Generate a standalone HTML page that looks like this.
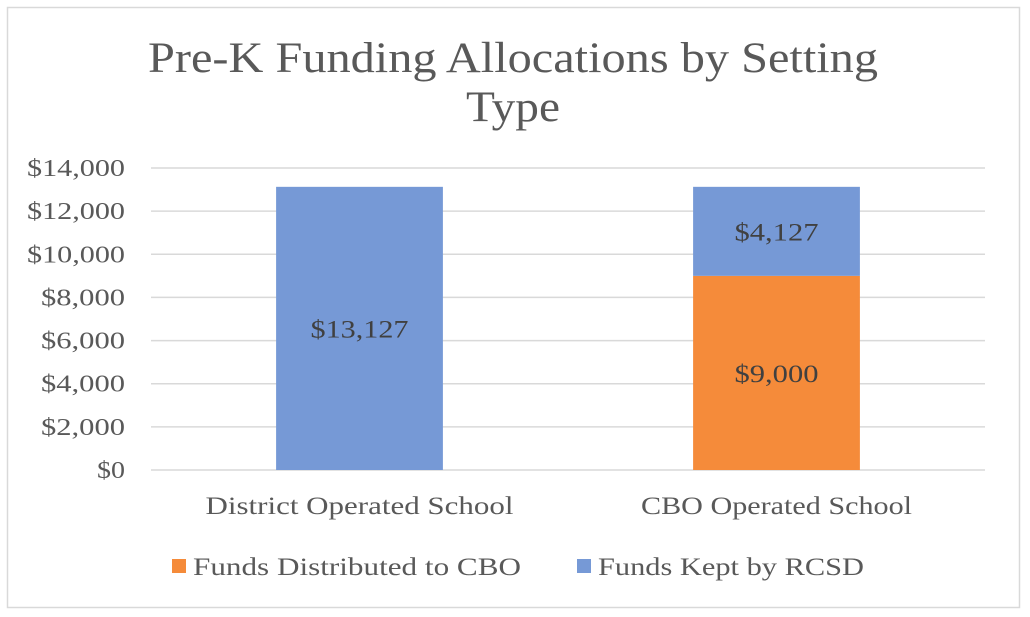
<!DOCTYPE html>
<html><head><meta charset="utf-8"><style>
html,body{margin:0;padding:0;background:#fff;}
svg{display:block;font-family:"Liberation Serif",serif;}
</style></head><body>
<svg width="1030" height="617">
<rect x="7.5" y="7.5" width="1012" height="600" fill="#fff" stroke="#d9d9d9" stroke-width="1.5"/>
<text x="513" y="72" font-size="43" fill="#595959" text-anchor="middle" textLength="730" lengthAdjust="spacingAndGlyphs">Pre-K Funding Allocations by Setting</text>
<text x="513" y="121" font-size="43" fill="#595959" text-anchor="middle" textLength="94" lengthAdjust="spacingAndGlyphs">Type</text>
<g id="grid"></g><g id="bars"></g><g id="labels"></g>
<rect x="172" y="559" width="14" height="14" fill="#f58b3a"/>
<text x="193" y="575" font-size="25" fill="#595959" textLength="328" lengthAdjust="spacingAndGlyphs">Funds Distributed to CBO</text>
<rect x="577" y="559" width="14" height="14" fill="#7699d6"/>
<text x="598" y="575" font-size="25" fill="#595959" textLength="266" lengthAdjust="spacingAndGlyphs">Funds Kept by RCSD</text>
</svg>
<script>
const categories=["District Operated School","CBO Operated School"];
const cboFunds=[0,9000];
const rcsdFunds=[13127,4127];
const ticks=[0,2000,4000,6000,8000,10000,12000,14000];
const NS="http://www.w3.org/2000/svg";
const x0=151,x1=985,yMin=0,yMax=14000,py0=470,py1=168;
const y=v=>py0-(v-yMin)/(yMax-yMin)*(py0-py1);
const band=(x1-x0)/categories.length;
const cx=i=>x0+band*(i+0.5);
const bw=band*0.4;
const fmt=v=>"$"+v.toLocaleString("en-US");
const labelWidth=c=>c.length>20?308:271;
function mk(tag,attrs,parent){const e=document.createElementNS(NS,tag);for(const k in attrs)e.setAttribute(k,attrs[k]);document.getElementById(parent).appendChild(e);return e;}
ticks.forEach(t=>{
  const l=mk("line",{x1:x0,x2:x1,y1:y(t),y2:y(t),stroke:"#d9d9d9","stroke-width":1.5},"grid");
  
  
  const s=fmt(t);
  const tx=mk("text",{x:125,y:y(t)+8,"font-size":24,fill:"#595959","text-anchor":"end",textLength:s.length*14,lengthAdjust:"spacingAndGlyphs"},"grid");
  tx.textContent=s;
  
  
});
categories.forEach((c,i)=>{
  const segs=[[cboFunds[i],"#f58b3a","bar-cbo"],[rcsdFunds[i],"#7699d6","bar-rcsd"]];
  let base=0;
  segs.forEach(([v,col,name])=>{
    if(v>0){
      const r=mk("rect",{x:cx(i)-bw/2,y:y(base+v),width:bw,height:y(base)-y(base+v),fill:col},"bars");
      
      
      const s=fmt(v);
      const t=mk("text",{x:cx(i),y:(y(base)+y(base+v))/2+9,"font-size":25,fill:"#404040","text-anchor":"middle",textLength:s.length*14,lengthAdjust:"spacingAndGlyphs"},"labels");
      t.textContent=s;
      
      
    }
    base+=v;
  });
  const cl=mk("text",{x:cx(i),y:514,"font-size":25,fill:"#595959","text-anchor":"middle",textLength:labelWidth(c),lengthAdjust:"spacingAndGlyphs"},"labels");
  cl.textContent=c;
  
  
});
</script>
</body></html>
